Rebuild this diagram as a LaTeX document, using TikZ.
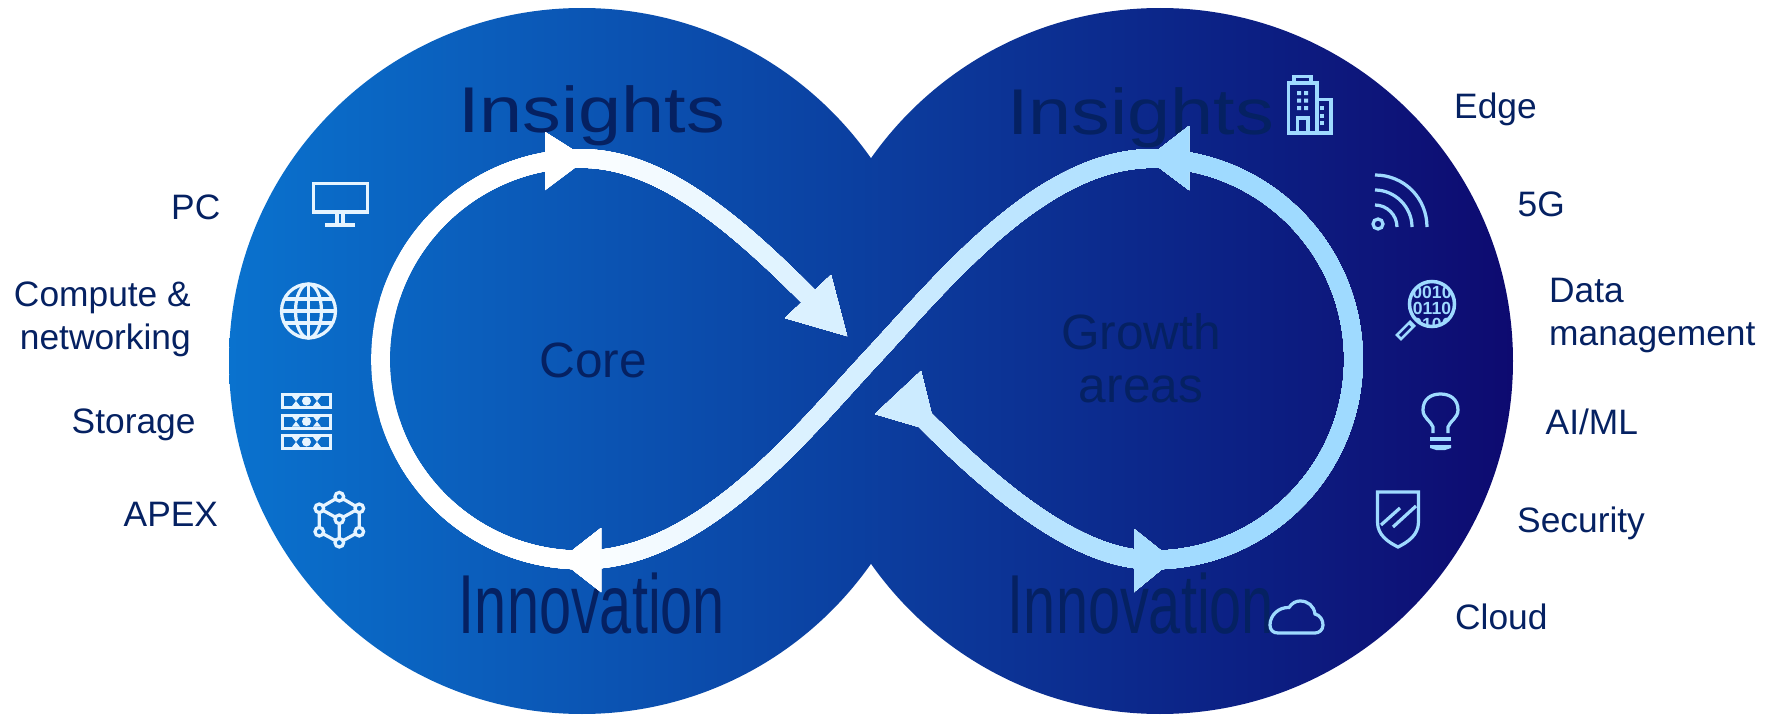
\documentclass[tikz,border=0pt]{standalone}
\usepackage{fontspec}
\setmainfont{Liberation Sans}
\definecolor{bgleft}{HTML}{0A72CE}
\definecolor{bgright}{HTML}{0D0A70}
\definecolor{rackblue}{HTML}{0A6CC8}
\definecolor{lensblue}{HTML}{0B1478}
\definecolor{navytext}{HTML}{052162}
\definecolor{bandblue}{HTML}{9FDAFF}
\definecolor{iconlight}{HTML}{E6F4FF}
\tikzset{
  sidelabel/.style={text=navytext,inner sep=0pt,font=\fontsize{10.05pt}{12.2pt}\selectfont},
  bigword/.style={text=navytext,inner sep=0pt,anchor=base,transform shape},
  midword/.style={text=navytext,inner sep=0pt,anchor=base,align=center,font=\fontsize{14.1pt}{15pt}\selectfont},
  bitrow/.style={text=bandblue,inner sep=0pt,font=\fontsize{5pt}{5pt}\selectfont\bfseries},
  iconline/.style={line width=0.92pt}
}
% the whole loop and its five arrow heads, in one colour
\newcommand{\bandpath}[1]{
  \draw[#1,line width=5.3pt] (808,296) .. controls (735,223) and (660,158.5) .. (581.5,158.5)
    .. controls (470.5,158.5) and (380.5,248.5) .. (380.5,359.5)
    .. controls (380.5,470.5) and (470.5,560) .. (581.5,560)
    .. controls (700,560) and (800,435) .. (870,359.5)
    .. controls (940,285) and (1040,158.5) .. (1152.5,158.5)
    .. controls (1263.5,158.5) and (1353.5,248.5) .. (1353.5,359.5)
    .. controls (1353.5,470.5) and (1263.5,560) .. (1152.5,560)
    .. controls (1080,560) and (1000,495) .. (925,420);
  \fill[#1] (545,132) -- (587,158.5) -- (545,190) -- cycle;
  \fill[#1] (831,275) -- (847,336) -- (785,318) -- cycle;
  \fill[#1] (1189,126) -- (1147,158.5) -- (1189,190) -- cycle;
  \fill[#1] (601,528) -- (560,560) -- (601,592) -- cycle;
  \fill[#1] (1134,529) -- (1173,560) -- (1134,592) -- cycle;
  \fill[#1] (875,414) -- (921,371) -- (936,432) -- cycle;
}

\begin{document}
\begin{tikzpicture}[x=0.01cm,y=-0.01cm]
  \useasboundingbox (0,0) rectangle (1771,715);

  % Discs
  \shade[left color=bgleft,right color=bgright] (582,361) circle (353) (1160,361) circle (353);

  % Big words
  \node[bigword,xscale=1.197,font=\fontsize{18.4pt}{20pt}\selectfont] (insightsl) at (591.5,133) {Insights};
  \node[bigword,xscale=1.197,font=\fontsize{18.4pt}{20pt}\selectfont] (insightsr) at (1140.5,134) {Insights};
  \node[bigword,xscale=0.689,font=\fontsize{23.8pt}{25pt}\selectfont] (innovationl) at (592,633) {Innovation};
  \node[bigword,xscale=0.689,font=\fontsize{23.8pt}{25pt}\selectfont] (innovationr) at (1141,633) {Innovation};
  \node[midword] (core) at (593,377) {Core};
  \node[midword] (growth) at (1141,349) {Growth};
  \node[midword] (areas) at (1141,402) {areas};

  % Loop, painted strip over strip from left to right
  \foreach \x in {360,380,...,1380} {
    \pgfmathsetmacro{\mixp}{min(100,max(0,(\x-560)/6.4))}
    \begin{scope}
      \clip (\x,0) rectangle (1771,715);
      \bandpath{bandblue!\mixp!white}
    \end{scope}
  }

  % Monitor
  \draw[iconlight,iconline] (313.5,183.5) rectangle (367.5,212);
  \draw[iconlight,iconline] (337,213) -- (337,225) (343,213) -- (343,225) (325,225) -- (355,225);

  % Globe
  \draw[iconlight,iconline] (308.5,311) circle (27);
  \draw[iconlight,iconline] (308.5,311) ellipse (13 and 27);
  \draw[iconlight,iconline] (308.5,284) -- (308.5,338) (281.5,311) -- (335.5,311);
  \draw[iconlight,iconline] (284.5,299) -- (332.5,299) (284.5,323) -- (332.5,323);

  % Racks
  \foreach \y in {401,421.5,442} {
    \fill[iconlight] (281,\y-8) rectangle (332,\y+8);
    \fill[rackblue] (284,\y-5) rectangle (329,\y+5);
    \fill[iconlight] (306.5,\y) circle (4.5);
    \foreach \x in {296,317} {
      \fill[iconlight] (\x-4,\y-5) -- (\x+4,\y-5) -- (\x-4,\y+5) -- (\x+4,\y+5) -- cycle;
    }
  }

  % Cube of dots
  \draw[iconlight,iconline] (339.3,496.7) -- (359.3,508.3) -- (359.3,531.7) -- (339.3,542.7)
    -- (319.3,531.7) -- (319.3,508.3) -- cycle;
  \draw[iconlight,iconline] (319.3,508.3) -- (339.3,519.3) -- (359.3,508.3) (339.3,519.3) -- (339.3,542.7);
  \foreach \x/\y in {339.3/496.7,319.3/508.3,359.3/508.3,339.3/519.3,319.3/531.7,359.3/531.7,339.3/542.7} {
    \draw[iconlight,iconline,fill=rackblue] (\x,\y) circle (4.3);
  }

  % Building
  \draw[bandblue,iconline] (1288.5,133) rectangle (1317,83) (1294,83) rectangle (1311,76.5);
  \draw[bandblue,iconline] (1317,99.5) rectangle (1331,133);
  \draw[bandblue,iconline] (1297.5,133) -- (1297.5,118) -- (1308,118) -- (1308,133);
  \foreach \y in {93,100.5,108} {
    \fill[bandblue] (1297,\y-2) rectangle (1301,\y+2) (1304,\y-2) rectangle (1308,\y+2);
  }
  \foreach \y in {108,116,123} {
    \fill[bandblue] (1320,\y-2) rectangle (1324,\y+2);
  }

  % Waves
  \draw[bandblue,iconline] (1378,224) circle (5);
  \draw[bandblue,iconline] (1375,205) .. controls (1387,205) and (1397,215) .. (1397,227);
  \draw[bandblue,iconline] (1375,190) .. controls (1395,190) and (1412,207) .. (1412,227);
  \draw[bandblue,iconline] (1375,175) .. controls (1404,175) and (1427,198) .. (1427,227);

  % Lens
  \begin{scope}
    \clip (1432,304) circle (22);
    \node[bitrow] (bitsa) at (1432,292) {0010};
    \node[bitrow] (bitsb) at (1432,308) {0110};
    \node[bitrow] (bitsc) at (1432,324) {0100};
  \end{scope}
  \draw[bandblue,line width=1pt] (1432,304) circle (22.5);
  \draw[bandblue,line width=2.4pt] (1413,323) -- (1398,338);
  \draw[lensblue,line width=0.9pt] (1410,326) -- (1400,336);

  % Bulb
  \draw[bandblue,iconline] (1433,433) -- (1433,427) .. controls (1431,421) and (1423,418) .. (1423,410)
    .. controls (1423,399) and (1431,394) .. (1440.5,394) .. controls (1450,394) and (1458,399) .. (1458,410)
    .. controls (1458,418) and (1450,421) .. (1448,427) -- (1448,433);
  \draw[bandblue,iconline] (1430,439) -- (1451,439);
  \fill[bandblue] (1430,445) -- (1451,445) -- (1451,448) -- (1445,450) -- (1436,450) -- (1430,448) -- cycle;

  % Shield
  \draw[bandblue,iconline] (1377.5,492) -- (1418.5,492) -- (1418.5,522) .. controls (1418.5,535) and (1408,542) .. (1398,547)
    .. controls (1388,542) and (1377.5,535) .. (1377.5,522) -- cycle;
  \draw[bandblue,iconline] (1381,525) -- (1400,508) (1393,527) -- (1416,506);

  % Cloud
  \draw[bandblue,iconline] (1278,633) .. controls (1273,633) and (1270,630) .. (1270,625)
    .. controls (1270,615) and (1279,607) .. (1289,607.5) .. controls (1292,603) and (1296,601) .. (1300,601)
    .. controls (1308,601) and (1314,606) .. (1315,614) .. controls (1320,615) and (1323,620) .. (1323,625)
    .. controls (1323,630) and (1319,633) .. (1315,633) -- cycle;

  % Left labels
  \node[sidelabel,anchor=base west] (pc) at (170.5,219) {PC};
  \node[sidelabel,anchor=base east] (compute) at (191.5,307) {Compute \&};
  \node[sidelabel,anchor=base east] (networking) at (191.5,350) {networking};
  \node[sidelabel,anchor=base west] (storage) at (71,433) {Storage};
  \node[sidelabel,anchor=base west] (apex) at (123,526) {APEX};

  % Right labels
  \node[sidelabel,anchor=base west] (edge) at (1453.5,118) {Edge};
  \node[sidelabel,anchor=base west] (fiveg) at (1517,216) {5G};
  \node[sidelabel,anchor=base west] (data) at (1548.5,302) {Data};
  \node[sidelabel,anchor=base west] (management) at (1548.5,345) {management};
  \node[sidelabel,anchor=base west] (aiml) at (1545,434) {AI/ML};
  \node[sidelabel,anchor=base west] (security) at (1516.5,532) {Security};
  \node[sidelabel,anchor=base west] (cloud) at (1454.5,629) {Cloud};
\end{tikzpicture}
\end{document}
